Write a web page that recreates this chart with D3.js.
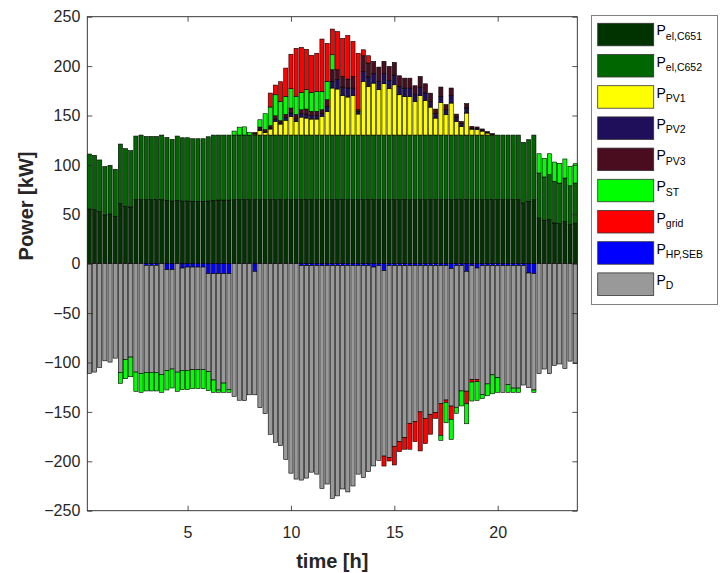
<!DOCTYPE html>
<html>
<head>
<meta charset="utf-8">
<script src="https://cdn.jsdelivr.net/npm/d3@7"></script>
<style>
  body { margin: 0; background: #fff; }
  text { font-family: "Liberation Sans", Arial, Helvetica, sans-serif; }
</style>
</head>
<body>
<svg id="chart" width="720" height="573"></svg>
<script>
//time steps (15 min resolution)
const time = d3.range(1, 96).map(i => i * 0.25);

//generation side (kW)
const elC651 = [
  55.4, 54.7, 52.7, 49.3, 50.3, 48.0, 60.7, 58.0, 57.4, 64.8,
  64.8, 64.8, 64.8, 64.8, 64.8, 64.1, 63.4, 64.1, 63.4, 63.4,
  63.1, 63.1, 63.1, 63.4, 64.1, 64.4, 64.4, 64.4, 64.8, 64.8,
  64.8, 64.8, 64.8, 64.8, 64.8, 64.8, 64.8, 64.8, 64.8, 64.8,
  64.8, 64.8, 64.8, 64.8, 64.8, 64.8, 64.8, 64.8, 64.8, 64.8,
  64.8, 64.8, 64.8, 64.8, 64.8, 64.8, 64.8, 64.8, 64.8, 64.8,
  64.8, 64.8, 64.8, 64.8, 64.8, 64.8, 64.8, 64.8, 64.8, 64.8,
  64.8, 64.8, 64.8, 64.8, 64.8, 64.8, 64.8, 64.8, 64.8, 64.8,
  64.8, 64.8, 64.8, 64.8, 61.5, 63.2, 64.8, 46.2, 44.0, 45.0,
  41.2, 40.5, 42.8, 39.5, 41.0
];
const elC652 = [
  55.6, 55.0, 52.3, 49.0, 49.3, 47.6, 60.4, 58.4, 57.0, 64.4,
  65.4, 64.0, 64.0, 64.0, 65.4, 63.7, 62.4, 65.1, 64.1, 64.1,
  63.4, 63.4, 63.4, 65.1, 66.1, 65.8, 65.8, 65.8, 65.4, 65.4,
  65.4, 65.4, 65.4, 65.4, 65.4, 65.4, 65.4, 65.4, 65.4, 65.4,
  65.4, 65.4, 65.4, 65.4, 65.4, 65.4, 65.4, 65.4, 65.4, 65.4,
  65.4, 65.4, 65.4, 65.4, 65.4, 65.4, 65.4, 65.4, 65.4, 65.4,
  65.4, 65.4, 65.4, 65.4, 65.4, 65.4, 65.4, 65.4, 65.4, 65.4,
  65.4, 65.4, 65.4, 65.4, 65.4, 65.4, 65.4, 65.4, 65.4, 65.4,
  65.4, 65.4, 65.4, 65.4, 61.3, 62.3, 65.4, 45.6, 43.8, 45.1,
  42.1, 41.1, 43.9, 39.4, 40.6
];
const pv1 = [
  0, 0, 0, 0, 0, 0, 0, 0, 0, 0,
  0, 0, 0, 0, 0, 0, 0, 0, 0, 0,
  0, 0, 0, 0, 0, 0, 0, 0, 0, 0,
  0, 0, 1.0, 4.7, 2.7, 6.1, 13.8, 11.1, 15.0, 18.9,
  13.8, 18.2, 17.2, 16.2, 16.2, 18.9, 24.0, 47.6, 46.6, 40.1,
  38.5, 40.1, 21.3, 54.3, 49.3, 52.6, 45.9, 52.0, 46.9, 50.9,
  40.8, 39.1, 39.1, 34.1, 40.1, 35.1, 28.3, 17.2, 33.1, 20.6,
  32.4, 13.8, 8.8, 22.3, 6.0, 5.5, 4.0, 2.0, 0.5, 0,
  0, 0, 0, 0, 0, 0, 0, 0, 0, 0,
  0, 0, 0, 0, 0
];
const pv2 = [
  0, 0, 0, 0, 0, 0, 0, 0, 0, 0,
  0, 0, 0, 0, 0, 0, 0, 0, 0, 0,
  0, 0, 0, 0, 0, 0, 0, 0, 0, 0,
  0, 0, 0.5, 1.2, 1.0, 1.2, 2.4, 1.7, 3.0, 3.5,
  3.0, 3.4, 4.0, 3.6, 3.6, 3.2, 5.0, 6.7, 9.4, 8.4,
  9.1, 7.4, 2.7, 10.1, 9.4, 9.4, 8.4, 10.1, 8.4, 9.8,
  8.4, 8.4, 8.4, 6.7, 8.4, 7.4, 5.7, 4.4, 6.1, 5.1,
  7.4, 4.4, 3.0, 5.1, 1.0, 1.0, 0.8, 0.5, 0, 0,
  0, 0, 0, 0, 0, 0, 0, 0, 0, 0,
  0, 0, 0, 0, 0
];
const pv3 = [
  0, 0, 0, 0, 0, 0, 0, 0, 0, 0,
  0, 0, 0, 0, 0, 0, 0, 0, 0, 0,
  0, 0, 0, 0, 0, 0, 0, 0, 0, 0,
  0, 0, 1.0, 2.2, 1.7, 2.2, 3.3, 1.7, 3.0, 4.9,
  4.0, 4.0, 5.1, 4.2, 4.2, 3.5, 6.8, 11.8, 10.1, 10.8,
  9.1, 11.8, 1.7, 15.9, 14.2, 12.5, 14.5, 12.5, 14.2, 12.8,
  10.8, 10.1, 10.1, 9.1, 10.8, 9.4, 8.4, 4.7, 9.4, 5.1,
  7.8, 3.0, 2.0, 4.4, 1.8, 1.7, 1.4, 1.0, 1.0, 0,
  0, 0, 0, 0, 0, 0, 0, 0, 0, 0,
  0, 0, 0, 0, 0
];
const st = [
  0, 0, 0, 0, 0, 0, 0, 0, 0, 0,
  0, 0, 0, 0, 0, 0, 0, 0, 0, 0,
  0, 0, 0, 0, 0, 0, 0, 0, 4.0, 8.0,
  8.3, 2.5, 0, 7.4, 16.2, 18.9, 21.3, 19.6, 18.0, 19.6,
  18.5, 17.5, 19.6, 19.2, 20.2, 18.6, 18.6, 15.2, 0, 0,
  0, 0, 0, 0, 0, 0, 0, 0, 0, 0,
  0, 0, 0, 0, 0, 0, 0, 0, 0, 0,
  0, 0, 0, 0, 0, 0, 0, 0, 0, 0,
  0, 0, 0, 0, 0, 0, 0, 19.5, 18.8, 21.2,
  19.6, 19.9, 19.3, 19.7, 19.6
];
const grid = [
  0, 0, 0, 0, 0, 0, 0, 0, 0, 0,
  0, 0, 0, 0, 0, 0, 0, 0, 0, 0,
  0, 0, 0, 0, 0, 0, 0, 0, 0, 0,
  0, 0, 0, 0, 0, 14.1, 9.8, 19.9, 28.8, 34.9,
  48.5, 45.7, 40.9, 37.6, 38.6, 53.0, 38.4, 26.0, 38.7, 38.5,
  44.1, 35.5, 57.1, 6.0, 7.4, 0, 0, 0, 0, 0,
  0, 0, 0, 0, 0, 0, 0, 0, 0, 0,
  0, 0, 0, 0, 0, 0, 0, 0, 0, 0,
  0, 0, 0, 0, 0, 0, 0, 0, 0, 0,
  0, 0, 0, 0, 0
];

//consumption side (kW, drawn downwards)
const hpSeb = [
  0, 0, 0, 0, 0, 0, 0, 0, 0, 0,
  0, 1.7, 1.7, 1.7, 0, 6.1, 6.1, 0, 4.4, 3.4,
  3.4, 3.4, 3.4, 10.1, 10.1, 10.1, 10.1, 10.1, 0, 0,
  0, 0, 7.7, 0, 0, 0, 0, 0, 0, 0,
  0, 2.0, 2.0, 2.0, 2.0, 2.0, 2.0, 2.0, 2.0, 2.0,
  2.0, 2.0, 2.0, 2.0, 2.0, 3.4, 2.0, 7.1, 2.0, 2.0,
  2.0, 2.0, 2.0, 2.0, 2.0, 2.0, 2.0, 2.0, 2.0, 2.0,
  5.0, 2.0, 2.0, 7.7, 2.0, 4.4, 2.0, 2.0, 2.0, 2.0,
  2.0, 2.0, 2.0, 2.0, 2.0, 9.4, 10.1, 0, 0, 0,
  0, 0, 0, 0, 0
];
const demand = [
  111.0, 109.7, 105.0, 98.3, 99.6, 95.6, 110.0, 96.9, 94.5, 109.7,
  111.0, 108.3, 108.3, 108.3, 112.0, 102.2, 100.5, 109.7, 103.5, 104.5,
  103.9, 103.9, 103.9, 99.2, 107.6, 117.7, 110.7, 117.1, 134.2, 138.2,
  138.5, 132.7, 125.0, 145.7, 151.8, 172.7, 180.8, 184.2, 198.0, 212.0,
  218.0, 217.0, 215.0, 209.0, 211.0, 225.4, 221.0, 235.5, 233.0, 226.0,
  229.0, 223.0, 211.0, 214.5, 208.5, 201.3, 197.0, 187.6, 194.3, 182.8,
  178.1, 174.0, 159.5, 157.9, 148.0, 154.8, 150.4, 148.4, 139.3, 136.0,
  139.1, 143.3, 126.8, 121.3, 115.4, 112.6, 130.4, 119.7, 110.5, 113.4,
  128.2, 120.5, 123.9, 123.9, 120.8, 116.1, 117.7, 111.3, 106.6, 111.3,
  102.9, 101.5, 106.0, 98.6, 101.2
];
const gridOut = [
  0, 0, 0, 0, 0, 0, 0, 0, 0, 0,
  0, 0, 0, 0, 0, 0, 0, 0, 0, 0,
  0, 0, 0, 0, 0, 0, 0, 0, 0, 0,
  0, 0, 0, 0, 0, 0, 0, 0, 0, 0,
  0, 0, 0, 0, 0, 0, 0, 0, 0, 0,
  0, 0, 0, 0, 0, 0, 0, 10.1, 3.4, 18.9,
  10.1, 11.8, 26.3, 20.2, 39.5, 25.3, 20.2, 6.1, 32.4, 2.4,
  13.5, 0, 0, 12.8, 2.4, 2.4, 0, 0, 0, 0,
  0, 0, 0, 0, 0, 0, 0, 0, 0, 0,
  0, 0, 0, 0, 0
];
const stOut = [
  0, 0, 0, 0, 0, 0, 11.1, 19.5, 19.9, 19.5,
  19.2, 18.8, 18.8, 18.8, 18.2, 19.5, 19.2, 19.5, 19.6, 19.6,
  19.2, 19.2, 19.2, 19.2, 12.5, 2.4, 9.4, 3.0, 0, 0,
  0, 0, 0, 0, 0, 0, 0, 0, 0, 0,
  0, 0, 0, 0, 0, 0, 0, 0, 0, 0,
  0, 0, 0, 0, 0, 0, 0, 0, 0, 0,
  0, 0, 0, 0, 0, 0, 0, 0, 5.1, 20.6,
  20.2, 6.1, 15.2, 20.2, 19.2, 19.0, 4.0, 12.0, 19.2, 14.8,
  0, 7.7, 4.3, 4.3, 0, 0, 2.4, 0, 0, 0,
  0, 0, 0, 0, 0
];

const yTicks = [-250, -200, -150, -100, -50, 0, 50, 100, 150, 200, 250];
const xTicks = [5, 10, 15, 20];

const COLORS = {
  elC651: "#003300", elC652: "#006600", pv1: "#ffff00", pv2: "#1f0f5a",
  pv3: "#4a0c1f", st: "#00ff00", grid: "#ff0000", hp: "#0000ff", demand: "#999999"
};

//legend entries (P + subscript)
const legendItems = [
  { sub: "el,C651", color: COLORS.elC651 },
  { sub: "el,C652", color: COLORS.elC652 },
  { sub: "PV1", color: COLORS.pv1 },
  { sub: "PV2", color: COLORS.pv2 },
  { sub: "PV3", color: COLORS.pv3 },
  { sub: "ST", color: COLORS.st },
  { sub: "grid", color: COLORS.grid },
  { sub: "HP,SEB", color: COLORS.hp },
  { sub: "D", color: COLORS.demand }
];

//rows for stacking, consumption as negative values
const rows = time.map((t, i) => ({
  t: t,
  elC651: elC651[i], elC652: elC652[i], pv1: pv1[i], pv2: pv2[i], pv3: pv3[i],
  st: st[i], grid: grid[i],
  hp: -hpSeb[i], demand: -demand[i], gridOut: -gridOut[i], stOut: -stOut[i]
}));

const posKeys = ["elC651", "elC652", "pv1", "pv2", "pv3", "st", "grid"];
const negKeys = ["hp", "demand", "gridOut", "stOut"];
const keyColor = Object.assign({}, COLORS, { gridOut: COLORS.grid, stOut: COLORS.st });

const plot = { left: 87.3, right: 577.3, top: 16.7, bottom: 510.7 };

const svg = d3.select("#chart");
svg.append("rect").attr("width", 720).attr("height", 573).attr("fill", "#fff");

const x = d3.scaleLinear().domain([0.15, 23.85]).range([plot.left, plot.right]);
const y = d3.scaleLinear().domain([-250, 250]).range([plot.bottom, plot.top]);
const barW = x(0.2) - x(0);

const posStack = d3.stack().keys(posKeys)(rows);
const negStack = d3.stack().keys(negKeys).offset(d3.stackOffsetDiverging)(rows);

//draw stacked bars
const barsG = svg.append("g");
[...posStack, ...negStack].forEach(layer => {
  barsG.append("g")
    .selectAll("rect")
    .data(layer.filter(d => Math.abs(d[1] - d[0]) > 0.01))
    .join("rect")
    .attr("x", d => x(d.data.t) - barW / 2)
    .attr("y", d => y(Math.max(d[0], d[1])))
    .attr("width", barW)
    .attr("height", d => Math.abs(y(d[0]) - y(d[1])))
    .attr("fill", keyColor[layer.key])
    .attr("stroke", "#000")
    .attr("stroke-width", 0.6);
});

//axes (matlab style: ticks inside, box around)
const tickColor = "#262626";
function styleAxis(g) {
  g.select(".domain").remove();
  g.selectAll(".tick line").attr("stroke", tickColor).attr("stroke-width", 0.8);
  g.selectAll(".tick text").attr("fill", tickColor).style("font-size", "16px")
    .style("font-family", "'Liberation Sans', Arial, sans-serif");
}

svg.append("g")
  .attr("transform", `translate(${plot.left},0)`)
  .call(d3.axisLeft(y).tickValues(yTicks).tickSizeInner(-5).tickSizeOuter(0).tickPadding(7))
  .call(styleAxis);

svg.append("g")
  .attr("transform", `translate(${plot.right},0)`)
  .call(d3.axisRight(y).tickValues(yTicks).tickSizeInner(-5).tickSizeOuter(0).tickFormat(""))
  .call(styleAxis);

svg.append("g")
  .attr("transform", `translate(0,${plot.bottom})`)
  .call(d3.axisBottom(x).tickValues(xTicks).tickSizeInner(-5).tickSizeOuter(0).tickPadding(16))
  .call(styleAxis);

svg.append("g")
  .attr("transform", `translate(0,${plot.top})`)
  .call(d3.axisTop(x).tickValues(xTicks).tickSizeInner(-5).tickSizeOuter(0).tickFormat(""))
  .call(styleAxis);

svg.append("rect")
  .attr("x", plot.left).attr("y", plot.top)
  .attr("width", plot.right - plot.left).attr("height", plot.bottom - plot.top)
  .attr("fill", "none").attr("stroke", tickColor).attr("stroke-width", 0.9);

//axis titles
svg.append("text")
  .attr("x", (plot.left + plot.right) / 2)
  .attr("y", 568)
  .attr("text-anchor", "middle")
  .style("font-size", "20px").style("font-weight", "bold").style("fill", "#262626")
  .text("time [h]");

svg.append("text")
  .attr("transform", "translate(33,206) rotate(-90)")
  .attr("text-anchor", "middle")
  .style("font-size", "20px").style("font-weight", "bold").style("fill", "#262626")
  .text("Power [kW]");

//legend
const legend = svg.append("g");
legend.append("rect")
  .attr("x", 591.5).attr("y", 15.5).attr("width", 126).attr("height", 289)
  .attr("fill", "#fff").attr("stroke", "#808080").attr("stroke-width", 1);

legendItems.forEach((item, k) => {
  const top = 23.3 + k * 31.2;
  legend.append("rect")
    .attr("x", 597.7).attr("y", top).attr("width", 56).attr("height", 22.5)
    .attr("fill", item.color).attr("stroke", "#333").attr("stroke-width", 0.8);
  const t = legend.append("text")
    .attr("x", 656.5).attr("y", top + 12)
    .style("font-size", "14px").style("fill", "#000");
  t.append("tspan").text("P");
  t.append("tspan").attr("dy", 4.5).style("font-size", "10.5px").text(item.sub);
});
</script>
</body>
</html>
